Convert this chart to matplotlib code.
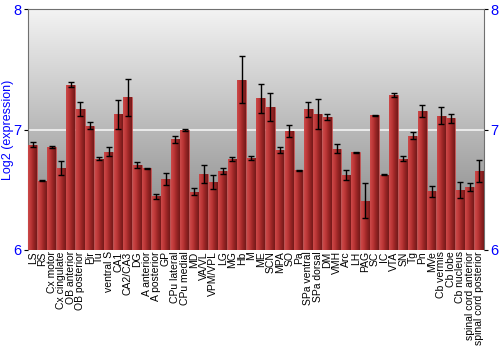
import matplotlib
matplotlib.use('Agg')
import matplotlib.pyplot as plt
import numpy as np

regions = ['LS', 'RS', 'Cx motor', 'Cx cingulate', 'OB anterior', 'OB posterior',
           'Pir', 'Tu', 'ventral S', 'CA1', 'CA2/CA3', 'DG', 'A anterior',
           'A posterior', 'GP', 'CPu lateral', 'CPu medial', 'MD', 'VA/VL',
           'VPM/VPL', 'LG', 'MG', 'Hb', 'M', 'ME', 'SCN', 'MPA', 'SO', 'Pa',
           'SPa ventral', 'SPa dorsal', 'DM', 'VMH', 'Arc', 'LH', 'PAG', 'SC',
           'IC', 'VTA', 'SN', 'Tg', 'Pn', 'MVe', 'Cb vermis', 'Cb lobe',
           'Cb nucleus', 'spinal cord anterior', 'spinal cord posterior']

expression = [6.875, 6.575, 6.853, 6.68, 7.372, 7.17, 7.033, 6.758, 6.817,
              7.125, 7.267, 6.705, 6.678, 6.444, 6.589, 6.917, 6.994, 6.483,
              6.631, 6.564, 6.658, 6.756, 7.414, 6.764, 7.258, 7.189, 6.828,
              6.989, 6.661, 7.167, 7.128, 7.106, 6.842, 6.625, 6.811, 6.408,
              7.117, 6.625, 7.286, 6.758, 6.95, 7.153, 6.486, 7.114, 7.092,
              6.5, 6.522, 6.653]

error = [0.02, 0.004, 0.01, 0.058, 0.02, 0.06, 0.027, 0.014, 0.037,
         0.124, 0.153, 0.026, 0.005, 0.024, 0.049, 0.025, 0.008, 0.03,
         0.075, 0.055, 0.026, 0.018, 0.193, 0.02, 0.122, 0.118, 0.024,
         0.049, 0.005, 0.065, 0.122, 0.025, 0.036, 0.042, 0.004, 0.147,
         0.004, 0.003, 0.015, 0.022, 0.028, 0.05, 0.046, 0.072, 0.04,
         0.065, 0.03, 0.093]

yticks = [6, 7, 8]

plt.rcParams['font.family'] = ['Liberation Sans', 'DejaVu Sans']

fig = plt.figure(figsize=(5, 3.5), dpi=100)
ax = fig.add_axes([0.056, 0.286, 0.912, 0.688])

x = np.arange(len(regions))
ax.set_xlim(-0.5, len(regions) - 0.5)
ax.set_ylim(6, 8)

# background gradient, light at top and darker at bottom
bg = np.linspace(0, 1, 256).reshape(-1, 1)
bg_cmap = matplotlib.colors.LinearSegmentedColormap.from_list('bg', ['#7e7e7e', '#f3f3f3'])
ax.imshow(bg, cmap=bg_cmap, aspect='auto', origin='lower',
          extent=[-0.5, len(regions) - 0.5, 6, 8], zorder=0)
ax.axhline(7, color='#f4f4f4', lw=1.2, zorder=1)

bars = ax.bar(x, np.array(expression) - 6, bottom=6, width=0.9,
              color='#b03030', edgecolor='#c85050', linewidth=0.5, zorder=2)

# horizontal red shading on each bar
bar_cmap = matplotlib.colors.LinearSegmentedColormap.from_list(
    'bar', ['#cc4a4a', '#bc3636', '#962424', '#741a1a'])
grad = np.linspace(0, 1, 64).reshape(1, -1)
for b in bars:
    bx, by = b.get_x(), b.get_y()
    im = ax.imshow(grad, cmap=bar_cmap, aspect='auto',
                   extent=[bx, bx + b.get_width(), by, by + b.get_height()],
                   zorder=3)
    im.set_clip_path(b)

ax.errorbar(x, expression, yerr=error, fmt='none', ecolor='black',
            elinewidth=1, capsize=2, capthick=1, zorder=4)

ax.set_xticks(x)
ax.set_xticklabels(regions, rotation=90, fontsize=7.5)
ax.set_yticks(yticks)
ax.tick_params(axis='y', labelcolor='blue', labelsize=10.5, length=3, pad=1.5,
               right=True, labelright=True)
ax.tick_params(axis='x', length=0, pad=1)
ax.set_ylabel('Log2 (expression)', color='blue', fontsize=9)
ax.yaxis.set_label_coords(-0.03, 0.5)

for s in ax.spines.values():
    s.set_color('#707070')
ax.spines['bottom'].set_visible(False)

plt.savefig('out.png', dpi=100)
